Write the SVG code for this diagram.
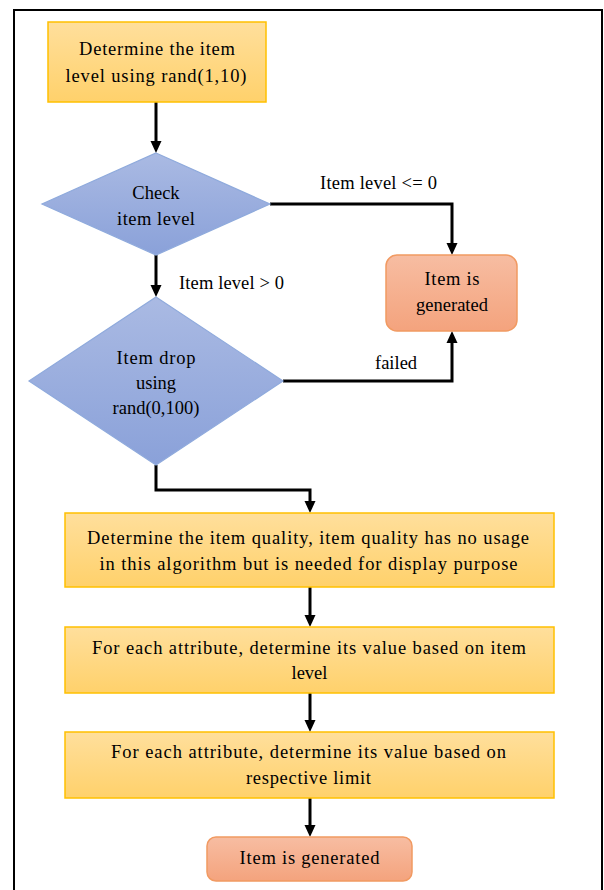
<svg xmlns="http://www.w3.org/2000/svg" width="604" height="890" viewBox="0 0 604 890">
<defs>
<linearGradient id="gy" x1="0" y1="0" x2="0" y2="1"><stop offset="0" stop-color="#FFDF9C"/><stop offset="1" stop-color="#FFD16B"/></linearGradient>
<linearGradient id="gb" x1="0" y1="0" x2="0" y2="1"><stop offset="0" stop-color="#AABAE3"/><stop offset="1" stop-color="#8AA1D9"/></linearGradient>
<linearGradient id="go" x1="0" y1="0" x2="0" y2="1"><stop offset="0" stop-color="#F7BDA2"/><stop offset="1" stop-color="#F4A37D"/></linearGradient>
<marker id="ah" markerUnits="userSpaceOnUse" markerWidth="12" markerHeight="12" refX="8" refY="6" orient="auto">
<path d="M0,0.5 L12,6 L0,11.5 Z" fill="#000"/>
</marker>
<style>
.box{fill:url(#gy);stroke:#FFC000;stroke-width:1.5}
.dia{fill:url(#gb);stroke:#8FAADC;stroke-width:1.2}
.term{fill:url(#go);stroke:#F19A62;stroke-width:1.5}
text{font-family:"Liberation Serif","Times New Roman",serif;font-size:18.5px;fill:#000}
.c{text-anchor:middle}
.conn path{fill:none;stroke:#000;stroke-width:3;marker-end:url(#ah)}
</style>
</defs>
<rect width="604" height="890" fill="#fff"/>
<path d="M14,890 V10 H602 V890" fill="none" stroke="#000" stroke-width="2"/>

<g class="conn" id="connectors">
<path d="M156,102 V149"/>
<path d="M156,255 V293"/>
<path d="M270,204 H452 V251"/>
<path d="M283,381 H452 V335"/>
<path d="M156,465 V490 H310 V509"/>
<path d="M310,587 V623"/>
<path d="M310,693 V728"/>
<path d="M310,798 V833"/>
</g>

<g id="n1">
<rect class="box" x="48" y="22" width="218" height="80"/>
<text class="c" x="157" y="55" textLength="156" lengthAdjust="spacing">Determine the item</text>
<text class="c" x="156" y="82" textLength="181" lengthAdjust="spacing">level using rand(1,10)</text>
</g>

<g id="n2">
<polygon class="dia" points="156,153 270,204 156,255 42,204"/>
<text class="c" x="156" y="199">Check</text>
<text class="c" x="156" y="225" textLength="78" lengthAdjust="spacing">item level</text>
</g>

<g id="n3">
<polygon class="dia" points="156,297 283,381 156,465 29,381"/>
<text class="c" x="156" y="364" textLength="79" lengthAdjust="spacing">Item drop</text>
<text class="c" x="156" y="389">using</text>
<text class="c" x="156" y="414">rand(0,100)</text>
</g>

<g id="n4">
<rect class="term" x="386" y="255" width="131" height="76" rx="11"/>
<text class="c" x="452" y="285" textLength="55" lengthAdjust="spacing">Item is</text>
<text class="c" x="452" y="311">generated</text>
</g>

<g id="n5">
<rect class="box" x="65" y="513" width="489" height="74"/>
<text class="c" x="308" y="544" textLength="442" lengthAdjust="spacing">Determine the item quality, item quality has no usage</text>
<text class="c" x="308.5" y="570" textLength="418" lengthAdjust="spacing">in this algorithm but is needed for display purpose</text>
</g>

<g id="n6">
<rect class="box" x="65" y="627" width="489" height="66"/>
<text class="c" x="309" y="654" textLength="434" lengthAdjust="spacing">For each attribute, determine its value based on item</text>
<text class="c" x="309.5" y="679">level</text>
</g>

<g id="n7">
<rect class="box" x="65" y="732" width="489" height="66"/>
<text class="c" x="308.5" y="758" textLength="395" lengthAdjust="spacing">For each attribute, determine its value based on</text>
<text class="c" x="308.5" y="784" textLength="125" lengthAdjust="spacing">respective limit</text>
</g>

<g id="n8">
<rect class="term" x="207" y="837" width="205" height="44" rx="9"/>
<text class="c" x="309.5" y="864" textLength="140" lengthAdjust="spacing">Item is generated</text>
</g>

<g id="labels">
<text x="320" y="189" textLength="117" lengthAdjust="spacing">Item level &lt;= 0</text>
<text x="179" y="289" textLength="105" lengthAdjust="spacing">Item level &gt; 0</text>
<text x="375" y="369">failed</text>
</g>
</svg>
